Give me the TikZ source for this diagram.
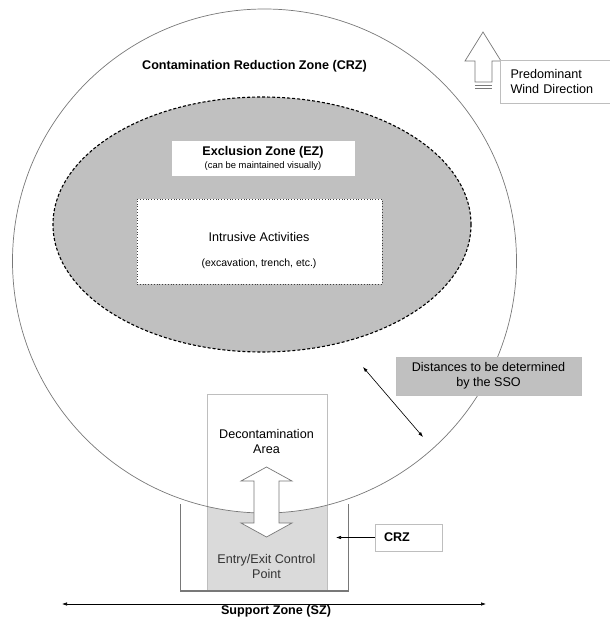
\documentclass[tikz,border=0pt]{standalone}
\usepackage{fontspec}
\setmainfont{Liberation Sans}
\usetikzlibrary{shapes}
\usetikzlibrary{positioning}
\usetikzlibrary{arrows.meta}

\definecolor{zonegray}{RGB}{192,192,192}
\definecolor{pointgray}{RGB}{218,218,218}
\definecolor{edgegray}{RGB}{120,120,120}
\definecolor{boxgray}{RGB}{190,190,190}

\tikzstyle{zonetext} = [font=\fontsize{12.6}{15}\selectfont, inner sep=0pt]
\tikzstyle{notebox} = [rectangle, draw=boxgray, line width=0.8pt, fill=white, inner sep=0pt, text centered, font=\fontsize{12.6}{15}\selectfont]
\tikzstyle{pointer} = [draw=black, line width=0.6pt, -{Latex[length=5pt,width=3.5pt]}]
\tikzstyle{twoway} = [draw=black, line width=0.6pt, {Latex[length=5pt,width=3.5pt]}-{Latex[length=5pt,width=3.5pt]}]

\begin{document}
\begin{tikzpicture}[x=1pt, y=-1pt]
    \useasboundingbox (0,0) rectangle (610,619);

    % entry/exit point = part of the decon area outside the CRZ
    \begin{scope}
        \clip (207,394) rectangle (327,591);
        \fill[pointgray, even odd rule] (207,394) rectangle (327,591) (264.5,261) circle [radius=252pt];
    \end{scope}
    \node(decon)[rectangle, draw=boxgray, line width=0.8pt, minimum width=120pt, minimum height=197pt, inner sep=0pt] at (267,492.5) {};

    % zones
    \coordinate(crzc) at (264.5,261);
    \draw[draw=edgegray, line width=0.7pt] (crzc) circle [radius=252pt];
    \draw[draw=black, fill=zonegray, line width=1.1pt, dash pattern=on 3pt off 2pt] (262,224.5) ellipse [x radius=209pt, y radius=127.5pt];

    \node(crztitle)[zonetext] at (254.5,66) {\bfseries Contamination Reduction Zone (CRZ)};

    \node(ezbox)[notebox, draw=white, minimum width=182pt, minimum height=34pt, align=center] at (263,158) {\bfseries Exclusion Zone (EZ)\\[-2pt]{\fontsize{9.4}{11}\selectfont (can be maintained visually)}};

    \node(intrusive)[notebox, draw=black!75, dotted, minimum width=245pt, minimum height=85pt] at (259.5,241.5) {};
    \node(intrusivetext)[zonetext, align=center] at (259,251) {Intrusive Activities\\[10pt]{\fontsize{10.5}{12}\selectfont (excavation, trench, etc.)}};

    % wind direction
    \draw[draw=edgegray, line width=0.7pt, fill=white] (483,32) -- (501,61) -- (492,61) -- (492,82) -- (475,82) -- (475,61) -- (465,61) -- cycle;
    \foreach \y in {85.5,88.5}
        \draw[draw=edgegray, line width=1pt] (475,\y) -- (492,\y);
    \node(windbox)[notebox, minimum width=110pt, minimum height=43pt, text width=89pt, align=left] at (555,81.5) {Predominant\\Wind Direction};

    % distances
    \node(ssobox)[notebox, fill=zonegray, minimum width=185pt, minimum height=38pt, align=center] at (488.5,376) {Distances to be determined\\by the SSO};
    \coordinate(ezedge) at (363,367);
    \coordinate(crzedge) at (423,437);
    \draw[twoway] (ezedge) -- (crzedge);

    % decontamination area
    \node(decontext)[zonetext, align=center] at (266.5,441.5) {Decontamination\\Area};
    \node(entrytext)[zonetext, align=center, text=black!80] at (266.5,566) {Entry/Exit Control\\Point};
    \draw[draw=edgegray, line width=0.7pt, fill=white] (266.5,467) -- (292,481) -- (279,481) -- (279,523) -- (292,523) -- (266.5,537) -- (241,523) -- (254,523) -- (254,481) -- (241,481) -- cycle;

    \draw[draw=edgegray, line width=0.8pt] (180,504) -- (180,591) -- (348,591) -- (348,504);
    \draw[draw=edgegray, line width=1.5pt] (180,591) -- (348,591);

    \node(crzbox)[notebox, minimum width=67pt, minimum height=27pt, text width=49pt, align=left] at (408.5,537.5) {\bfseries CRZ};
    \coordinate(crztip) at (336,537.5);
    \draw[pointer] (crzbox.west) -- (crztip);

    % support zone
    \coordinate(szwest) at (62,604);
    \coordinate(szeast) at (486,604);
    \draw[twoway] (szwest) -- (szeast);
    \node(sztext)[zonetext] at (276,611) {\bfseries Support Zone (SZ)};

\end{tikzpicture}
\end{document}
